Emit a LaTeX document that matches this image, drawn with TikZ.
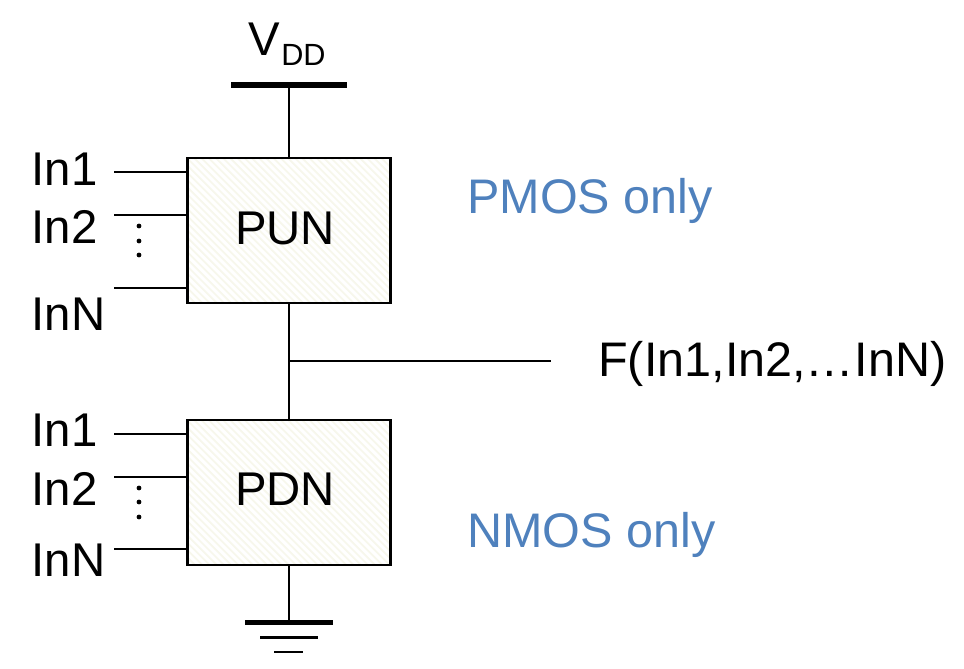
\documentclass[tikz,border=0pt]{standalone}
\usepackage{fontspec}
\setmainfont{Liberation Sans}
\definecolor{hatchc}{HTML}{F7F7EC}
\definecolor{bluetxt}{HTML}{4F81BD}
\tikzset{
  wire/.style={line width=1.9pt,black},
  blockbox/.style={draw=black,line width=2.2pt,outer sep=0pt,inner sep=0pt,minimum width=152.25pt,minimum height=108.75pt,anchor=north west},
  lab/.style={anchor=base west,inner sep=0pt,font=\fontsize{35.5}{40}\selectfont},
  widelab/.style={anchor=base west,inner sep=0pt,font=\fontsize{36.4}{40}\selectfont},
  sublab/.style={anchor=base west,inner sep=0pt,font=\fontsize{23}{26}\selectfont},
  bluelab/.style={widelab,text=bluetxt},
  blocklab/.style={anchor=base,inner sep=0pt,font=\fontsize{35.5}{40}\selectfont},
  rail/.style={line width=3.8pt,black},
  dotm/.style={circle,fill=black,inner sep=0pt,minimum size=3.6pt}
}
\begin{document}
\begin{tikzpicture}[x=0.75pt,y=-0.75pt]
\useasboundingbox (0,0) rectangle (964,668);
% blocks with hatching
\foreach \top/\bot in {158/303,420/565}{
  \begin{scope}
    \clip (187,\top) rectangle (390,\bot);
    \fill[white] (187,\top) rectangle (390,\bot);
    \foreach \k in {-40,...,50}{
      \draw[hatchc,line width=1.3pt] ({187+\k*7.2},\top) -- ++(160,160);
    }
  \end{scope}
}
\node[blockbox] (pun) at (187.5,158) {};
\node[blockbox] (pdn) at (187.5,420) {};
\node[blocklab] (puntxt) at (285,244) {PUN};
\node[blocklab] (pdntxt) at (285,505) {PDN};
% supply
\coordinate (vddl) at (231,85);
\coordinate (vddr) at (347,85);
\coordinate (vddm) at (289,85);
\coordinate (puntop) at (289,158);
\coordinate (punbot) at (289,303);
\coordinate (pdntop) at (289,420);
\coordinate (pdnbot) at (289,565);
\coordinate (gndm) at (289,622);
\coordinate (outj) at (289,361);
\coordinate (oute) at (551,361);
\draw[rail] (vddl) -- (vddr);
\draw[wire] (vddm) -- (puntop);
\draw[wire] (punbot) -- (pdntop);
\draw[wire] (outj) -- (oute);
\draw[wire] (pdnbot) -- (gndm);
% ground
\coordinate (g1l) at (245,622.5); \coordinate (g1r) at (333,622.5);
\coordinate (g2l) at (260,637.5); \coordinate (g2r) at (318,637.5);
\coordinate (g3l) at (274,652);   \coordinate (g3r) at (303,652);
\draw[black,line width=4.4pt] (g1l) -- (g1r);
\draw[black,line width=2.1pt] (g2l) -- (g2r);
\draw[black,line width=2.1pt] (g3l) -- (g3r);
% input stubs
\foreach \n/\y in {a/172,b/215,c/288,d/434,e/477,f/549}{
  \coordinate (s\n) at (114,\y);
  \coordinate (t\n) at (187,\y);
  \draw[wire] (s\n) -- (t\n);
}
% dots
\foreach \n/\y in {p/226,q/241,r/255,s/488,t/502,u/517}{
  \node[dotm] (dot\n) at (139,\y) {};
}
% labels
\node[lab] (i1a) at (31.5,185) {In1};
\node[lab] (i2a) at (31.5,243) {In2};
\node[lab] (iNa) at (31.5,330) {InN};
\node[lab] (i1b) at (31.5,446) {In1};
\node[lab] (i2b) at (31.5,505) {In2};
\node[lab] (iNb) at (31.5,576) {InN};
\node[lab] (vddv) at (248,55) {V};
\node[sublab] (vdds) at (281,65) {DD};
\node[widelab] (fout) at (598,376) {F(In1,In2,…InN)};
\node[bluelab] (pmos) at (467,213) {PMOS only};
\node[bluelab] (nmos) at (467,547) {NMOS only};
\end{tikzpicture}
\end{document}
